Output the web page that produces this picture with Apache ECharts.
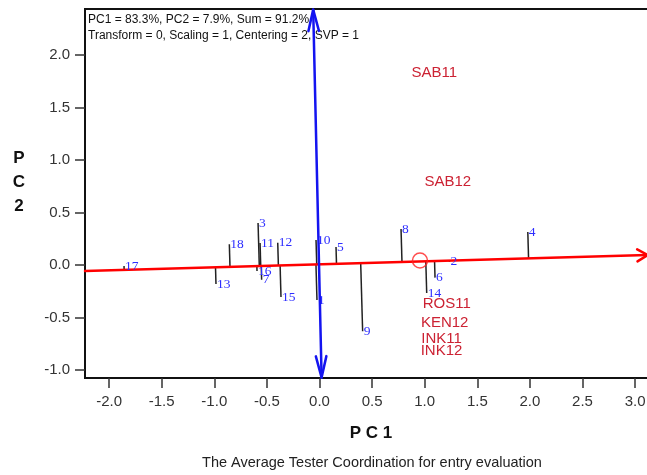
<!DOCTYPE html>
<html>
<head>
<meta charset="utf-8">
<script src="https://cdn.jsdelivr.net/npm/echarts@6/dist/echarts.min.js"></script>
<style>
  html, body { margin: 0; padding: 0; background: #fff; }
  #chart { width: 647px; height: 475px; }
</style>
</head>
<body>
<div id="chart"></div>
<script>
// Entry scores on the first two principal components
const entryNames = ['1', '2', '3', '4', '5', '6', '7', '8', '9', '10', '11', '12', '13', '14', '15', '16', '17', '18'];
const entryPC1 = [-0.024, 1.235, -0.584, 1.98, 0.157, 1.098, -0.55, 0.775, 0.41, -0.033, -0.565, -0.397, -0.984, 1.019, -0.366, -0.594, -1.858, -0.857];
const entryPC2 = [-0.333, 0.03, 0.40, 0.314, 0.171, -0.12, -0.14, 0.343, -0.63, 0.238, 0.21, 0.212, -0.181, -0.267, -0.305, -0.057, -0.01, 0.197];

// Tester scores
const testerNames = ['SAB11', 'SAB12', 'ROS11', 'KEN12', 'INK11', 'INK12'];
const testerPC1 = [1.09, 1.22, 1.21, 1.19, 1.16, 1.16];
const testerPC2 = [1.83, 0.79, -0.37, -0.55, -0.70, -0.82];

// Average tester and the two ATC axes through the origin
const averageTester = [0.955, 0.043];
const atcAbscissa = [[-2.229, -0.057], [3.12, 0.095]];
const atcOrdinate = [[0.02, -1.072], [-0.06, 2.432]];

// Axis ranges and tick values
const xRange = [-2.229, 3.227];
const yRange = [-1.076, 2.438];
const xTicks = [-2.0, -1.5, -1.0, -0.5, 0.0, 0.5, 1.0, 1.5, 2.0, 2.5, 3.0];
const yTicks = [-1.0, -0.5, 0.0, 0.5, 1.0, 1.5, 2.0];

const headerLines = ['PC1 = 83.3%, PC2 = 7.9%, Sum = 91.2%', 'Transform = 0, Scaling = 1, Centering = 2, SVP = 1'];

const SANS = '"Liberation Sans", Arial, sans-serif';
const SERIF = '"Liberation Serif", "Times New Roman", serif';

// Projection of an entry onto the ATC abscissa
function projectOnAbscissa(x, y) {
  const [a, b] = atcAbscissa;
  const dx = b[0] - a[0], dy = b[1] - a[1];
  const len2 = dx * dx + dy * dy;
  const t = ((x - a[0]) * dx + (y - a[1]) * dy) / len2;
  return [a[0] + t * dx, a[1] + t * dy];
}

const projectionData = entryNames.map((n, i) => {
  const q = projectOnAbscissa(entryPC1[i], entryPC2[i]);
  return [entryPC1[i], entryPC2[i], q[0], q[1]];
});

// Open "V" arrowhead at tip p, coming from q
function arrowHead(p, q, len, halfAngle) {
  const ang = Math.atan2(q[1] - p[1], q[0] - p[0]);
  return [
    [p[0] + len * Math.cos(ang + halfAngle), p[1] + len * Math.sin(ang + halfAngle)],
    [p[0], p[1]],
    [p[0] + len * Math.cos(ang - halfAngle), p[1] + len * Math.sin(ang - halfAngle)]
  ];
}

function vectorSeries(seg, color, width, headStart, headEnd, headLen, headAngle, z) {
  return {
    type: 'custom',
    z: z,
    silent: true,
    data: [[seg[0][0], seg[0][1], seg[1][0], seg[1][1]]],
    renderItem: function (params, api) {
      const p0 = api.coord([api.value(0), api.value(1)]);
      const p1 = api.coord([api.value(2), api.value(3)]);
      const style = { stroke: color, lineWidth: width, fill: null, lineJoin: 'round', lineCap: 'round' };
      const children = [{ type: 'line', shape: { x1: p0[0], y1: p0[1], x2: p1[0], y2: p1[1] }, style: style }];
      if (headEnd) children.push({ type: 'polyline', shape: { points: arrowHead(p1, p0, headLen, headAngle) }, style: style });
      if (headStart) children.push({ type: 'polyline', shape: { points: arrowHead(p0, p1, headLen, headAngle) }, style: style });
      return { type: 'group', children: children };
    }
  };
}

const chart = echarts.init(document.getElementById('chart'), null, { renderer: 'canvas' });

chart.setOption({
  animation: false,
  backgroundColor: '#fff',
  grid: {
    left: 85, top: 9, width: 574, height: 369,
    outerBoundsMode: 'none', containLabel: false,
    show: true, borderColor: '#111', borderWidth: 2, backgroundColor: 'transparent'
  },
  xAxis: {
    type: 'value', min: xRange[0], max: xRange[1],
    axisLine: { onZero: false, lineStyle: { color: '#111', width: 2 } },
    axisTick: { show: true, length: 10, customValues: xTicks, lineStyle: { color: '#333', width: 1.5 } },
    axisLabel: {
      customValues: xTicks, margin: 16,
      formatter: v => v.toFixed(1),
      color: '#333', fontSize: 15, fontFamily: SANS
    },
    splitLine: { show: false }
  },
  yAxis: {
    type: 'value', min: yRange[0], max: yRange[1],
    axisLine: { onZero: false, lineStyle: { color: '#111', width: 2 } },
    axisTick: { show: true, length: 10, customValues: yTicks, lineStyle: { color: '#333', width: 1.5 } },
    axisLabel: {
      customValues: yTicks, margin: 15,
      formatter: v => v.toFixed(1),
      color: '#333', fontSize: 15, fontFamily: SANS
    },
    splitLine: { show: false }
  },
  graphic: [
    { type: 'text', left: 88, top: 12, style: { text: headerLines.join('\n'), font: '12px ' + SANS, fill: '#111', lineHeight: 16 } },
    { type: 'text', x: 371, y: 433, style: { text: 'P C 1', font: 'bold 17px ' + SANS, fill: '#111', align: 'center', verticalAlign: 'middle' } },
    { type: 'text', x: 19, y: 182, style: { text: 'P\nC\n2', font: 'bold 17px ' + SANS, fill: '#111', align: 'center', verticalAlign: 'middle', lineHeight: 24 } },
    { type: 'text', x: 372, y: 463, style: { text: 'The Average Tester Coordination for entry evaluation', font: '14.5px ' + SANS, fill: '#222', align: 'center', verticalAlign: 'middle' } }
  ],
  series: [
    // Projections of entries onto the ATC abscissa
    {
      type: 'custom', z: 2, silent: true,
      data: projectionData,
      renderItem: function (params, api) {
        const p = api.coord([api.value(0), api.value(1)]);
        const q = api.coord([api.value(2), api.value(3)]);
        return { type: 'line', shape: { x1: p[0], y1: p[1], x2: q[0], y2: q[1] }, style: { stroke: '#222', lineWidth: 1.5 } };
      }
    },
    // ATC abscissa
    vectorSeries(atcAbscissa, '#ff0000', 2.5, false, true, 12, Math.PI / 6, 3),
    // Average tester marker
    {
      type: 'scatter', z: 4, silent: true,
      data: [averageTester],
      symbol: 'circle', symbolSize: 15,
      itemStyle: { color: 'rgba(0,0,0,0)', borderColor: '#ff2020', borderWidth: 1.5 }
    },
    // Entry labels
    {
      type: 'custom', z: 5, silent: true,
      data: entryNames.map((n, i) => [entryPC1[i], entryPC2[i], n]),
      renderItem: function (params, api) {
        const p = api.coord([api.value(0), api.value(1)]);
        return {
          type: 'text', x: p[0] + 1, y: p[1],
          style: { text: entryNames[params.dataIndex], font: '13.5px ' + SERIF, fill: '#2e2eff', align: 'left', verticalAlign: 'middle' }
        };
      }
    },
    // Tester labels
    {
      type: 'custom', z: 5, silent: true,
      data: testerNames.map((n, i) => [testerPC1[i], testerPC2[i]]),
      renderItem: function (params, api) {
        const p = api.coord([api.value(0), api.value(1)]);
        return {
          type: 'text', x: p[0], y: p[1],
          style: { text: testerNames[params.dataIndex], font: '15px ' + SANS, fill: '#cc2233', align: 'center', verticalAlign: 'middle' }
        };
      }
    },
    // ATC ordinate
    vectorSeries(atcOrdinate, '#1414f0', 2.5, true, true, 22, Math.PI / 13, 6)
  ]
});
</script>
</body>
</html>
